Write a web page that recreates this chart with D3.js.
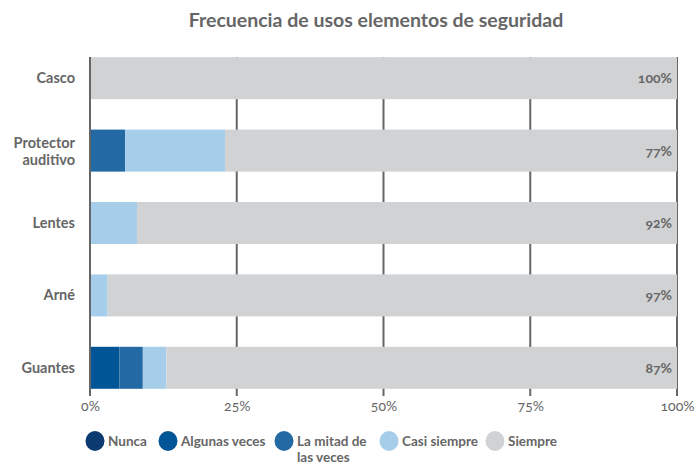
<!DOCTYPE html>
<html>
<head>
<meta charset="utf-8">
<script src="https://cdn.jsdelivr.net/npm/d3@7"></script>
<style>
  body { margin: 0; background: #fff; }
  svg text { font-family: Lato, "Open Sans", sans-serif; font-feature-settings: "onum"; }
</style>
</head>
<body>
<div id="chart"></div>
<script>
// chart data
var categories = ["Casco", "Protector auditivo", "Lentes", "Arné", "Guantes"];
var seriesNames = ["Nunca", "Algunas veces", "La mitad de las veces", "Casi siempre", "Siempre"];
var nunca        = [0, 0, 0, 0, 0];
var algunasVeces = [0, 0, 0, 0, 5];
var laMitad      = [0, 6, 0, 0, 4];
var casiSiempre  = [0, 17, 8, 3, 4];
var siempre      = [100, 77, 92, 97, 87];
var xTicks = [0, 25, 50, 75, 100];

var colors = ["#0a3a70", "#005596", "#2369a4", "#a6cdea", "#d1d2d4"];

var width = 696, height = 465;
var margin = {top: 57, right: 20, bottom: 77, left: 90};

var svg = d3.select("#chart").append("svg")
    .attr("width", width)
    .attr("height", height);

svg.append("text")
    .attr("x", 376)
    .attr("y", 27)
    .attr("text-anchor", "middle")
    .attr("font-size", "19.5px")
    .attr("font-weight", "bold")
    .attr("fill", "#666")
    .text("Frecuencia de usos elementos de seguridad");

var x = d3.scaleLinear().domain([0, 100]).range([margin.left, 677]);
var y = d3.scaleBand().domain(categories).range([margin.top - 15, 404]).paddingInner(0.42).paddingOuter(0.21);

var rows = categories.map(function (c, i) {
    return {cat: c, vals: [nunca[i], algunasVeces[i], laMitad[i], casiSiempre[i], siempre[i]]};
});

// gridlines (behind bars)
svg.append("g").selectAll("line")
    .data(xTicks)
    .enter().append("line")
    .attr("x1", function (d) { return x(d); })
    .attr("x2", function (d) { return x(d); })
    .attr("y1", 57)
    .attr("y2", 396)
    .attr("stroke", "#666")
    .attr("stroke-width", 2);

// bars
rows.forEach(function (r) {
    var acc = 0;
    r.vals.forEach(function (v, k) {
        if (v > 0) {
            svg.append("rect")
                .attr("x", x(acc))
                .attr("y", y(r.cat))
                .attr("width", x(acc + v) - x(acc))
                .attr("height", y.bandwidth())
                .attr("fill", colors[k]);
        }
        acc += v;
    });
});

// left axis line on top
svg.append("line")
    .attr("x1", x(0)).attr("x2", x(0))
    .attr("y1", 57).attr("y2", 396)
    .attr("stroke", "#666").attr("stroke-width", 2);

// value labels
svg.append("g").selectAll("text")
    .data(rows)
    .enter().append("text")
    .attr("x", 672)
    .attr("y", function (d) { return y(d.cat) + y.bandwidth() / 2 + 5; })
    .attr("text-anchor", "end")
    .attr("font-size", "14px")
    .attr("font-weight", "bold")
    .attr("fill", "#666")
    .text(function (d) { return d.vals[4] + "%"; });

// category labels
svg.append("g").selectAll("text")
    .data(categories)
    .enter().append("text")
    .attr("text-anchor", "end")
    .attr("font-size", "14.5px")
    .attr("font-weight", "bold")
    .attr("fill", "#666")
    .each(function (d) {
        var t = d3.select(this);
        var cy = y(d) + y.bandwidth() / 2;
        if (d === "Protector auditivo") {
            t.append("tspan").attr("x", 75).attr("y", cy - 3).text("Protector");
            t.append("tspan").attr("x", 75).attr("y", cy + 14).text("auditivo");
        } else {
            t.attr("x", 75).attr("y", cy + 5).text(d);
        }
    });

// x axis
var xAxis = d3.axisBottom(x).tickValues(xTicks).tickFormat(function (d) { return d + "%"; }).tickSize(0).tickPadding(0);
var ax = svg.append("g").attr("transform", "translate(0,401)").call(xAxis);
ax.select(".domain").remove();
ax.selectAll("text")
    .attr("font-size", "14px")
    .attr("fill", "#666")
    .attr("dy", "0.71em")
    .style("font-family", "Lato, sans-serif");

// legend
var legendX = [95, 168, 284, 389, 495];
var lg = svg.append("g");
seriesNames.forEach(function (n, k) {
    lg.append("ellipse")
        .attr("cx", legendX[k])
        .attr("cy", 441)
        .attr("rx", 9.5)
        .attr("ry", 10)
        .attr("fill", colors[k]);
    var t = lg.append("text")
        .attr("font-size", "13.5px")
        .attr("font-weight", "bold")
        .attr("fill", "#666");
    if (n === "La mitad de las veces") {
        t.append("tspan").attr("x", legendX[k] + 13).attr("y", 446).text("La mitad de");
        t.append("tspan").attr("x", legendX[k] + 13).attr("y", 462).text("las veces");
    } else {
        t.attr("x", legendX[k] + 13).attr("y", 446).text(n);
    }
});
</script>
</body>
</html>
